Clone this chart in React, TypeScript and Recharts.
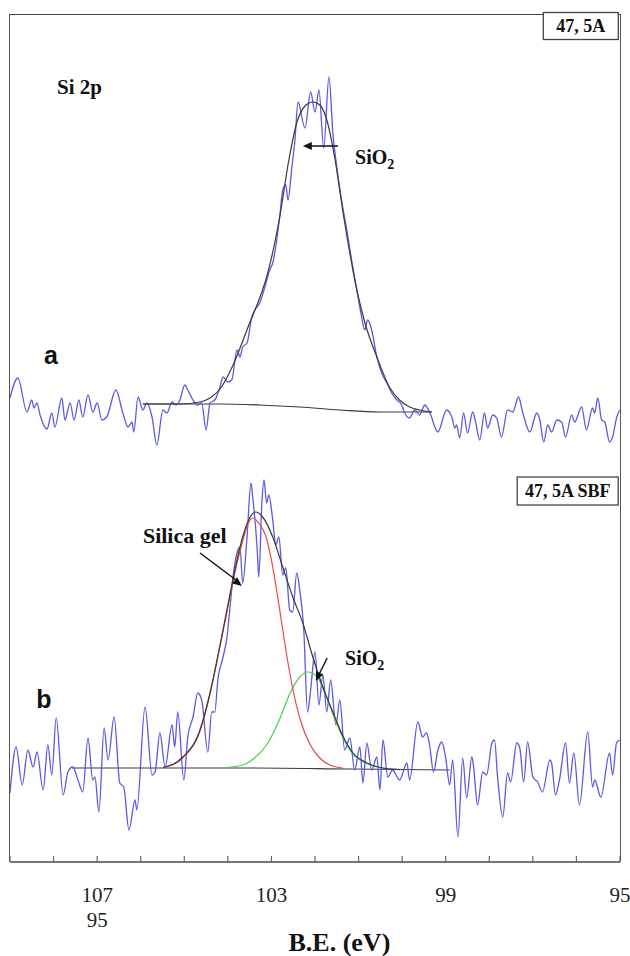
import React from "react";
import { LineChart, Line, XAxis, YAxis, ReferenceDot, ReferenceLine, Label } from "recharts";

// Si 2p XPS spectra, binding energy (eV) vs intensity (counts, a.u.)
// panel a: 47,5A as received
const spectrumA: [number, number][] = [
  [109.0, 620], [108.82, 820], [108.61, 480], [108.5, 600], [108.45, 520], [108.38, 570], [108.31, 450],
  [108.15, 310], [108.04, 470], [107.97, 330], [107.81, 620], [107.74, 400], [107.62, 570], [107.53, 400],
  [107.42, 600], [107.33, 430], [107.21, 650], [107.1, 480], [107.0, 570], [106.89, 400], [106.78, 430],
  [106.57, 700], [106.41, 470], [106.29, 330], [106.2, 380], [106.16, 280], [106.06, 630], [105.95, 500],
  [105.86, 570], [105.74, 430], [105.63, 150], [105.49, 500], [105.4, 470], [105.28, 580], [105.19, 550],
  [105.1, 600], [104.99, 750], [104.92, 700], [104.8, 600], [104.69, 550], [104.6, 570], [104.5, 300],
  [104.41, 570], [104.3, 600], [104.18, 730], [104.11, 830], [104.0, 780], [103.91, 800], [103.79, 1100],
  [103.72, 1030], [103.66, 1130], [103.56, 1170], [103.45, 1430], [103.38, 1500], [103.27, 1570],
  [103.15, 1730], [103.04, 1900], [102.97, 1970], [102.81, 2430], [102.74, 2700], [102.67, 2750],
  [102.62, 2600], [102.53, 2930], [102.46, 3200], [102.39, 3580], [102.23, 3320], [102.1, 3680],
  [102.0, 3480], [101.91, 3700], [101.8, 3120], [101.68, 3830], [101.59, 3270], [101.5, 2930],
  [101.39, 2600], [101.27, 2300], [101.16, 2000], [101.04, 1700], [100.93, 1430], [100.86, 1300],
  [100.79, 1400], [100.7, 1300], [100.58, 1030], [100.47, 870], [100.35, 770], [100.24, 670], [100.12, 600],
  [100.01, 550], [99.94, 470], [99.83, 420], [99.71, 500], [99.6, 450], [99.48, 550], [99.37, 480],
  [99.18, 280], [98.98, 500], [98.86, 430], [98.79, 320], [98.75, 350], [98.68, 220], [98.59, 470],
  [98.5, 270], [98.38, 480], [98.31, 370], [98.22, 200], [98.11, 470], [98.04, 320], [97.92, 450],
  [97.83, 420], [97.72, 230], [97.58, 500], [97.46, 480], [97.33, 630], [97.23, 470], [97.07, 280],
  [96.91, 470], [96.84, 400], [96.75, 180], [96.66, 350], [96.57, 280], [96.45, 400], [96.34, 380],
  [96.25, 230], [96.11, 450], [96.04, 380], [95.88, 530], [95.77, 300], [95.63, 520], [95.58, 470],
  [95.51, 620], [95.42, 400], [95.35, 380], [95.24, 180], [95.17, 230], [95.08, 420], [95.01, 500],
];

const fitA: [number, number][] = [
  [105.95, 560], [105.1, 560], [104.64, 580], [104.41, 620], [104.18, 710], [103.89, 940], [103.5, 1370],
  [103.27, 1620], [103.11, 1830], [102.81, 2430], [102.6, 3000], [102.42, 3370], [102.23, 3540],
  [102.05, 3580], [101.87, 3540], [101.71, 3370], [101.55, 3030], [101.34, 2430], [101.04, 1700],
  [100.86, 1380], [100.58, 1030], [100.28, 720], [100.06, 600], [99.83, 530], [99.6, 500], [99.32, 480],
];

const backgroundA: [number, number][] = [
  [105.95, 560], [104.18, 560], [103.27, 550], [102.35, 530], [101.43, 500], [100.51, 480], [99.32, 480],
];

// panel b: 47,5A after SBF soaking
const spectrumB: [number, number][] = [
  [109.0, 690], [108.86, 1150], [108.72, 770], [108.59, 1120], [108.47, 950], [108.38, 1100], [108.24, 720],
  [108.13, 1170], [108.04, 870], [107.94, 1440], [107.78, 670], [107.67, 900], [107.56, 950], [107.44, 820],
  [107.33, 700], [107.21, 1240], [107.1, 820], [107.05, 850], [106.96, 500], [106.84, 1340], [106.75, 1020],
  [106.61, 1450], [106.48, 790], [106.39, 750], [106.27, 320], [106.13, 620], [106.09, 520], [105.9, 1550],
  [105.74, 870], [105.67, 900], [105.56, 1290], [105.44, 950], [105.28, 1370], [105.22, 1150], [105.15, 1500],
  [105.01, 820], [104.92, 1250], [104.8, 1450], [104.69, 1690], [104.6, 1620], [104.46, 1100], [104.37, 1500],
  [104.3, 1500], [104.23, 1820], [104.11, 2050], [104.02, 2250], [103.95, 2550], [103.89, 2820],
  [103.79, 3090], [103.72, 3150], [103.66, 2790], [103.56, 3250], [103.47, 3790], [103.43, 3650],
  [103.33, 3150], [103.29, 2850], [103.22, 3590], [103.17, 3820], [103.11, 3590], [103.06, 3670],
  [102.97, 3420], [102.9, 3170], [102.83, 3250], [102.74, 2870], [102.67, 2940], [102.58, 2520],
  [102.51, 2500], [102.42, 2890], [102.35, 2720], [102.26, 2340], [102.17, 1500], [102.1, 1720],
  [102.0, 2100], [101.91, 1570], [101.82, 1870], [101.73, 1500], [101.64, 1820], [101.52, 1370],
  [101.43, 1620], [101.32, 1120], [101.2, 1240], [101.09, 920], [100.97, 1150], [100.9, 790], [100.81, 1190],
  [100.7, 920], [100.58, 1050], [100.51, 720], [100.44, 1220], [100.33, 850], [100.22, 920], [100.06, 820],
  [99.89, 990], [99.83, 820], [99.64, 1400], [99.53, 1250], [99.44, 1290], [99.37, 1170], [99.28, 900],
  [99.18, 1120], [99.09, 1200], [99.0, 1040], [98.91, 770], [98.84, 1020], [98.72, 250], [98.61, 1040],
  [98.52, 640], [98.4, 1050], [98.36, 950], [98.27, 570], [98.15, 900], [98.06, 870], [97.94, 1190],
  [97.88, 1220], [97.81, 850], [97.69, 450], [97.58, 890], [97.51, 800], [97.37, 1190], [97.3, 1140],
  [97.21, 800], [97.12, 1200], [97.0, 850], [96.89, 800], [96.78, 700], [96.61, 1020], [96.57, 990],
  [96.48, 670], [96.39, 820], [96.25, 1190], [96.16, 790], [96.06, 1090], [95.93, 570], [95.74, 1300],
  [95.63, 750], [95.58, 820], [95.44, 650], [95.24, 1090], [95.17, 870], [95.08, 1190], [95.01, 1220],
];

const fitB: [number, number][] = [
  [105.49, 945], [105.03, 1050], [104.64, 1320], [104.41, 1690], [104.18, 2170], [103.95, 2680],
  [103.79, 3020], [103.66, 3250], [103.5, 3440], [103.36, 3500], [103.2, 3450], [102.97, 3250],
  [102.74, 2950], [102.51, 2650], [102.28, 2390], [102.05, 2050], [101.82, 1750], [101.59, 1500],
  [101.36, 1260], [101.13, 1090], [100.81, 990], [100.51, 945], [100.06, 925],
];

const silicaGel: [number, number][] = [
  [105.49, 940], [105.03, 1045], [104.64, 1310], [104.41, 1680], [104.18, 2155], [103.95, 2655],
  [103.79, 2990], [103.66, 3210], [103.54, 3380], [103.43, 3440], [103.31, 3400], [103.11, 3230],
  [102.97, 2950], [102.81, 2520], [102.65, 2070], [102.51, 1730], [102.35, 1440], [102.12, 1180],
  [101.89, 1040], [101.66, 970], [101.36, 940],
];

const silicaB: [number, number][] = [
  [104.18, 940], [103.66, 970], [103.39, 1040], [103.11, 1170], [102.81, 1430], [102.58, 1680],
  [102.35, 1850], [102.17, 1900], [101.96, 1860], [101.82, 1740], [101.59, 1480], [101.36, 1240],
  [101.13, 1080], [100.81, 985], [100.51, 945],
];

const backgroundB: [number, number][] = [
  [107.58, 940], [103.5, 940], [101.2, 930], [98.91, 920],
];

const beTicks = [109, 108, 107, 106, 105, 104, 103, 102, 101, 100, 99, 98, 97, 96, 95];
const beLabels = [107, 103, 99, 95];
const secondRow: Record<number, string> = { 107: "95" };

const SERIF = "'Liberation Serif', 'Times New Roman', serif";
const SANS = "'Liberation Sans', Arial, sans-serif";
const BLUE = "#5a5ae2";
const FIT = "#3a3a3a";

const toPts = (arr: [number, number][]) => arr.map(([ev, counts]) => ({ ev, counts }));

const BeTick = ({ x, y, payload }: any) => {
  const v = payload.value;
  return (
    <g>
      <line x1={x} x2={x} y1={y - 6} y2={y} stroke="#666" strokeWidth={1.2} />
      {beLabels.includes(v) && (
        <text x={x} y={y + 40} textAnchor="middle" fontFamily={SERIF} fontSize={21} fill="#222">
          {v}
        </text>
      )}
      {secondRow[v] && (
        <text x={x} y={y + 65} textAnchor="middle" fontFamily={SERIF} fontSize={21} fill="#222">
          {secondRow[v]}
        </text>
      )}
    </g>
  );
};

const textAt = (txt: React.ReactNode, size: number, family = SERIF) => (p: any) => (
  <text x={p.cx} y={p.cy} fontFamily={family} fontWeight="bold" fontSize={size} fill="#111">
    {txt}
  </text>
);

const boxAt = (txt: string, w: number, h: number, size: number) => (p: any) => (
  <g>
    <rect x={p.cx - w / 2} y={p.cy - h / 2} width={w} height={h} fill="#fff" stroke="#444" strokeWidth={1.3} />
    <text x={p.cx} y={p.cy + size * 0.34} textAnchor="middle" fontFamily={SERIF} fontWeight="bold" fontSize={size} fill="#111">
      {txt}
    </text>
  </g>
);

const arrowHead = (angle: number) => (p: any) => (
  <path d="M0,0 L-9,-4 L-9,4 Z" fill="#111" transform={`translate(${p.cx},${p.cy}) rotate(${angle})`} />
);

const sio2 = (
  <>
    SiO<tspan dy={5} fontSize={14}>2</tspan>
  </>
);

export default function App() {
  return (
    <div style={{ position: "absolute", left: 0, top: 0, width: 630, height: 956, background: "#fff" }}>
      <div
        style={{
          position: "absolute", left: 9, top: 14, width: 612, height: 848, boxSizing: "border-box",
          borderTop: "1.5px solid #444", borderLeft: "1.5px solid #555", borderRight: "1.5px solid #555",
        }}
      />
      <div style={{ position: "absolute", left: 0, top: 0 }}>
        <LineChart width={630} height={460} margin={{ top: 14, right: 10, bottom: 0, left: 10 }}>
          <XAxis type="number" dataKey="ev" domain={[95, 109]} reversed allowDataOverflow hide />
          <YAxis type="number" dataKey="counts" domain={[0, 4460]} allowDataOverflow hide />
          <Line data={toPts(backgroundA)} dataKey="counts" type="monotone" stroke={FIT} strokeWidth={1.2} dot={false} activeDot={false} isAnimationActive={false} />
          <Line data={toPts(spectrumA)} dataKey="counts" type="monotone" stroke={BLUE} strokeWidth={1.3} dot={false} activeDot={false} isAnimationActive={false} />
          <Line data={toPts(fitA)} dataKey="counts" type="monotone" stroke={FIT} strokeWidth={1.2} dot={false} activeDot={false} isAnimationActive={false} />
          <ReferenceLine segment={[{ x: 101.47, y: 3140 }, { x: 102.2, y: 3140 }]} stroke="#111" strokeWidth={1.5} />
          <ReferenceDot x={102.28} y={3140} r={0} shape={arrowHead(180)} />
          <ReferenceDot x={107.92} y={3660} r={0} shape={textAt("Si 2p", 21)} />
          <ReferenceDot x={101.08} y={2960} r={0} shape={textAt(sio2, 20)} />
          <ReferenceDot x={108.22} y={960} r={0} shape={textAt("a", 25, SANS)} />
          <ReferenceDot x={95.9} y={4340} r={0} shape={boxAt("47, 5A", 75, 27, 18)} />
        </LineChart>
      </div>
      <div style={{ position: "absolute", left: 0, top: 460 }}>
        <LineChart width={630} height={496} margin={{ top: 0, right: 10, bottom: 0, left: 10 }}>
          <XAxis
            type="number"
            dataKey="ev"
            domain={[95, 109]}
            reversed
            allowDataOverflow
            ticks={beTicks}
            interval={0}
            height={94}
            tickSize={0}
            tickMargin={0}
            tickLine={false}
            axisLine={{ stroke: "#777", strokeWidth: 2 }}
            tick={<BeTick />}
          >
            <Label
              content={({ viewBox }: any) => (
                <text x={viewBox.x + viewBox.width * 0.54} y={viewBox.y + 89} textAnchor="middle" fontFamily={SERIF} fontWeight="bold" fontSize={26} fill="#111">
                  B.E. (eV)
                </text>
              )}
            />
          </XAxis>
          <YAxis type="number" dataKey="counts" domain={[0, 4020]} allowDataOverflow hide />
          <Line data={toPts(backgroundB)} dataKey="counts" type="monotone" stroke={FIT} strokeWidth={1.2} dot={false} activeDot={false} isAnimationActive={false} />
          <Line data={toPts(spectrumB)} dataKey="counts" type="monotone" stroke={BLUE} strokeWidth={1.3} dot={false} activeDot={false} isAnimationActive={false} />
          <Line data={toPts(silicaB)} dataKey="counts" type="monotone" stroke="#4ccf4c" strokeWidth={1.2} dot={false} activeDot={false} isAnimationActive={false} />
          <Line data={toPts(silicaGel)} dataKey="counts" type="monotone" stroke="#f04646" strokeWidth={1.2} dot={false} activeDot={false} isAnimationActive={false} />
          <Line data={toPts(fitB)} dataKey="counts" type="monotone" stroke={FIT} strokeWidth={1.2} dot={false} activeDot={false} isAnimationActive={false} />
          <ReferenceLine segment={[{ x: 104.64, y: 3090 }, { x: 103.72, y: 2790 }]} stroke="#111" strokeWidth={1.4} />
          <ReferenceDot x={103.68} y={2760} r={0} shape={arrowHead(38)} />
          <ReferenceLine segment={[{ x: 101.72, y: 2040 }, { x: 101.96, y: 1830 }]} stroke="#111" strokeWidth={1.4} />
          <ReferenceDot x={101.98} y={1810} r={0} shape={arrowHead(115)} />
          <ReferenceDot x={105.95} y={3190} r={0} shape={textAt("Silica gel", 22)} />
          <ReferenceDot x={101.31} y={1970} r={0} shape={textAt(sio2, 20)} />
          <ReferenceDot x={108.4} y={1540} r={0} shape={textAt("b", 25, SANS)} />
          <ReferenceDot x={96.2} y={3710} r={0} shape={boxAt("47, 5A SBF", 101, 28, 18)} />
        </LineChart>
      </div>
    </div>
  );
}
